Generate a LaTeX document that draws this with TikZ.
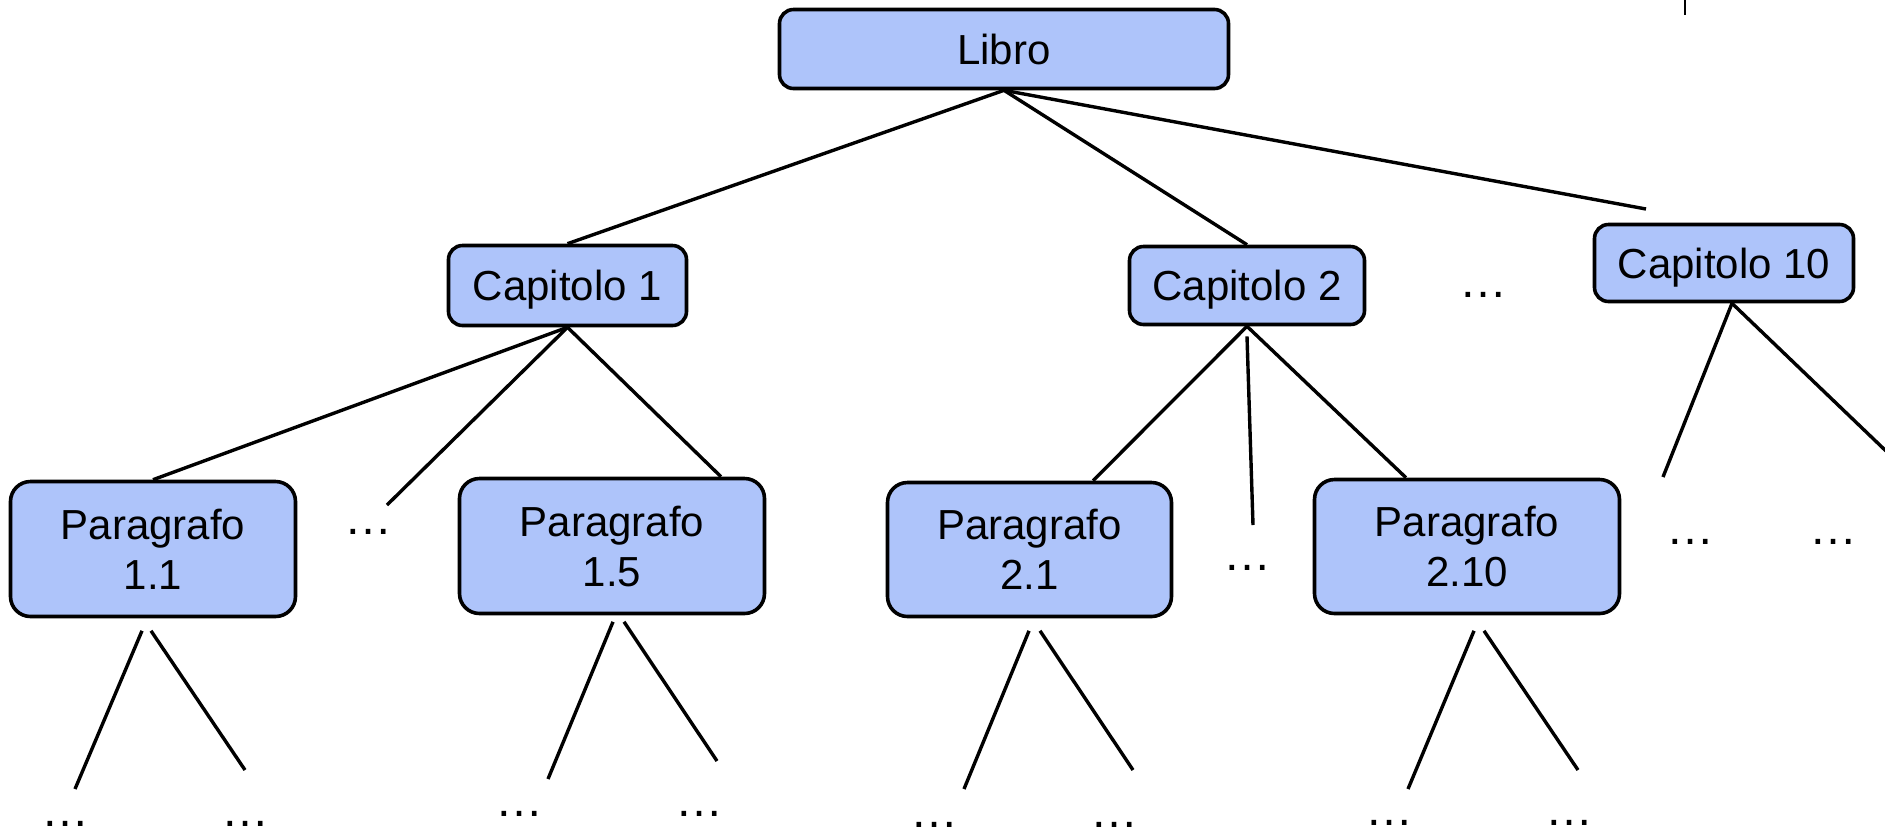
\documentclass[tikz,border=0pt]{standalone}
\usepackage{fontspec}
\setmainfont{Liberation Sans}
\definecolor{boxblue}{RGB}{174,196,250}
\begin{document}
\begin{tikzpicture}[x=0.5pt,y=-0.5pt,
  box/.style={draw=black, line width=1.8pt, fill=boxblue, rounded corners=7pt,
    inner sep=0pt, align=center, font=\fontsize{21}{25}\selectfont},
  chap/.style={box, text height=15.2pt, text depth=0pt},
  para/.style={box, rounded corners=10pt},
  link/.style={line width=1.7pt},
  gap/.style={inner sep=0pt, font=\fontsize{24}{28}\selectfont}]
\useasboundingbox (0,0) rectangle (1885,837);

% book and chapters
\node[chap, minimum width=224.5pt, minimum height=39.5pt] (libro) at (1004,49) {Libro};
\node[chap, minimum width=119pt, minimum height=40pt] (cap1) at (567.5,285.5) {Capitolo 1};
\node[chap, minimum width=117.5pt, minimum height=39pt] (cap2) at (1247,285.5) {Capitolo 2};
\node[chap, minimum width=129.5pt, minimum height=38.5pt] (cap10) at (1724,263) {Capitolo 10};
\node[gap] (dcap) at (1483,295) {…};

% paragraphs
\node[para, minimum width=142.5pt, minimum height=67.5pt] (p11) at (153,549) {Paragrafo\\1.1};
\node[para, minimum width=152.5pt, minimum height=67.5pt] (p15) at (612,546) {Paragrafo\\1.5};
\node[para, minimum width=142pt, minimum height=67pt] (p21) at (1029.5,549.5) {Paragrafo\\2.1};
\node[para, minimum width=152.5pt, minimum height=67pt] (p210) at (1467,546.5) {Paragrafo\\2.10};

% omitted siblings
\node[gap] (d1) at (368,532) {…};
\node[gap] (d2) at (1247,568) {…};
\node[gap] (d10a) at (1690,542) {…};
\node[gap] (d10b) at (1833,542) {…};
\node[gap] (d11a) at (65,824) {…};
\node[gap] (d11b) at (245,824) {…};
\node[gap] (d15a) at (519,814) {…};
\node[gap] (d15b) at (699,814) {…};
\node[gap] (d21a) at (934,825) {…};
\node[gap] (d21b) at (1114,825) {…};
\node[gap] (d210a) at (1389,823) {…};
\node[gap] (d210b) at (1569,823) {…};

% free line ends
\coordinate (l10end) at (1646,209);
\coordinate (c1gap) at (387,505);
\coordinate (c2gap) at (1253,525);
\coordinate (c10a) at (1663,477);
\coordinate (c10b) at (1886,451);
\coordinate (e11a) at (75,789);
\coordinate (e11b) at (245,770);
\coordinate (e15a) at (548,779);
\coordinate (e15b) at (717,761);
\coordinate (e21a) at (964,789);
\coordinate (e21b) at (1133,770);
\coordinate (e210a) at (1408,789);
\coordinate (e210b) at (1578,770);

% book -> chapters
\draw[link] (libro.south) -- (cap1.north);
\draw[link] (libro.south) -- (cap2.north);
\draw[link] (libro.south) -- (l10end);

% chapters -> paragraphs
\draw[link] (cap1.south) -- (p11.north);
\draw[link] (cap1.south) -- (c1gap);
\draw[link] (cap1.south) -- ([xshift=54.5pt]p15.north);
\draw[link] (cap2.south) -- ([xshift=31.75pt]p21.north);
\draw[link] ([yshift=-5pt]cap2.south) -- (c2gap);
\draw[link] (cap2.south) -- ([xshift=-30.5pt]p210.north);
\draw[link] ([xshift=4pt]cap10.south) -- (c10a);
\draw[link] ([xshift=4pt]cap10.south) -- (c10b);

% paragraphs -> sub-levels
\draw[link] ([xshift=-5.5pt,yshift=-6.25pt]p11.south) -- (e11a);
\draw[link] ([xshift=-1pt,yshift=-6.25pt]p11.south) -- (e11b);
\draw[link] ([xshift=0.5pt,yshift=-3.25pt]p15.south) -- (e15a);
\draw[link] ([xshift=6pt,yshift=-3.25pt]p15.south) -- (e15b);
\draw[link] ([xshift=-0.25pt,yshift=-6.25pt]p21.south) -- (e21a);
\draw[link] ([xshift=5.25pt,yshift=-6.25pt]p21.south) -- (e21b);
\draw[link] ([xshift=3.5pt,yshift=-7.75pt]p210.south) -- (e210a);
\draw[link] ([xshift=8.5pt,yshift=-7.75pt]p210.south) -- (e210b);

% stray tick at the top edge
\draw[line width=0.6pt] (1685,0) -- (1685,15);
\end{tikzpicture}
\end{document}
